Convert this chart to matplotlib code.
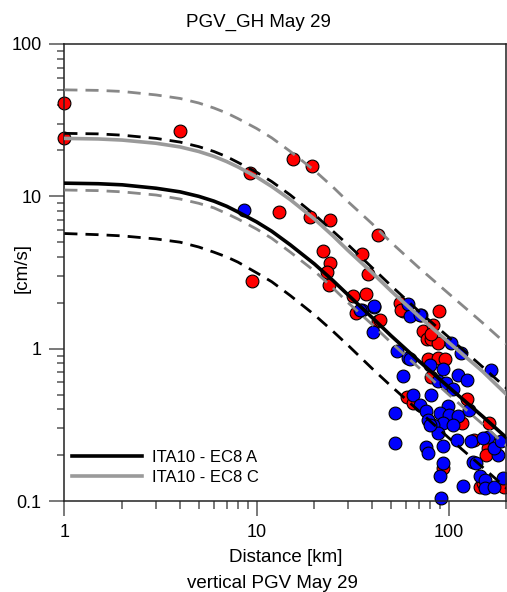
import numpy as np
import matplotlib.pyplot as plt
from matplotlib.ticker import NullFormatter

plt.rcParams['font.family'] = ['Liberation Sans', 'DejaVu Sans']

# model curves (distance km, PGV cm/s)
dist = [1, 1.5, 2, 3, 4, 5, 6, 7, 8, 10, 12, 15, 20, 25, 30, 40, 50, 70, 100, 150, 200]
ec8a_med = [12.2, 12.1, 11.9, 11.3, 10.7, 10.0, 9.3, 8.6, 7.9, 6.8, 5.9, 4.8, 3.6, 2.8,
            2.25, 1.6, 1.22, 0.83, 0.56, 0.36, 0.26]
ec8a_hi = [25.9, 25.7, 25.2, 24.0, 22.7, 21.2, 19.7, 18.2, 16.7, 14.4, 12.5, 10.2, 7.6, 5.9,
           4.8, 3.4, 2.6, 1.76, 1.19, 0.76, 0.55]
ec8a_lo = [5.7, 5.6, 5.5, 5.25, 5.0, 4.65, 4.3, 4.0, 3.7, 3.15, 2.75, 2.23, 1.67, 1.3,
           1.05, 0.74, 0.57, 0.39, 0.26, 0.167, 0.121]
ec8c_med = [24, 23.8, 23.4, 22.3, 21.1, 19.7, 18.3, 16.9, 15.6, 13.4, 11.6, 9.5, 7.1, 5.5,
            4.4, 3.15, 2.4, 1.63, 1.1, 0.71, 0.5]
ec8c_hi = [50, 49.6, 48.8, 46.3, 43.9, 41, 38, 35.2, 32.4, 27.9, 24.2, 19.7, 14.8, 11.5,
           9.2, 6.6, 5.0, 3.4, 2.3, 1.48, 1.07]
ec8c_lo = [11, 10.9, 10.7, 10.2, 9.6, 9.0, 8.4, 7.7, 7.1, 6.1, 5.3, 4.3, 3.24, 2.5,
           2.0, 1.44, 1.1, 0.75, 0.5, 0.32, 0.23]

# observed stations
red_d = [1.0, 1.0, 4.0, 9.2, 13.1, 15.5, 19.5, 19.0, 24.2, 43, 22.3, 35.3, 24.0, 23.2,
         38.2, 9.5, 23.8, 31.9, 37.2, 33, 43, 58, 55.7, 73.6, 77.2, 78, 88.7, 83, 81.3,
         88, 88, 95.3, 81.3, 124, 60.4, 65.3, 118, 163, 136, 160, 157, 93.4, 145, 151,
         195, 81.3, 43.9, 56.6]
red_v = [41, 24, 27, 14.2, 7.9, 17.7, 15.7, 7.3, 7.0, 5.6, 4.4, 4.2, 3.66, 3.2,
         3.1, 2.8, 2.6, 2.23, 2.29, 1.72, 1.53, 1.76, 2.0, 1.31, 1.15, 0.855, 1.76, 1.42, 1.15,
         1.09, 0.87, 0.85, 0.65, 0.47, 0.485, 0.44, 0.324, 0.324, 0.252, 0.222, 0.2, 0.164, 0.124, 0.131,
         0.124, 1.24, 1.55, 1.80]

blue_d = [8.6, 35.3, 40.9, 40.2, 54, 61.5, 61.5, 62.8, 58, 72.2, 103, 116, 79.7, 93.4,
          112, 124, 166, 88, 97.3, 105, 81.3, 65.3, 70.8, 76.6, 52.5, 99.2, 89.8, 101,
          112, 93.4, 105, 83, 88, 110, 78, 128, 160, 131, 151, 180, 173, 188, 52.5, 76.6,
          78, 93.4, 134, 139, 94, 89.8, 119, 145, 154, 154, 173, 191, 91, 40.9, 34.6,
          62.8, 70.8, 79.7]
blue_v = [8.1, 1.79, 1.87, 1.28, 0.97, 0.87, 1.95, 1.63, 0.66, 1.67, 1.09, 0.94, 0.785, 0.73,
          0.675, 0.625, 0.72, 0.61, 0.595, 0.54, 0.5, 0.5, 0.43, 0.387, 0.377, 0.418, 0.377, 0.368,
          0.359, 0.324, 0.316, 0.316, 0.279, 0.252, 0.34, 0.397, 0.265, 0.247, 0.258, 0.2, 0.222, 0.247, 0.24, 0.226,
          0.206, 0.228, 0.181, 0.177, 0.177, 0.146, 0.126, 0.145, 0.137, 0.121, 0.124, 0.141, 0.104, 1.9, 1.8,
          0.85, 1.67, 0.316]

fig = plt.figure(figsize=(5.07, 5.92), dpi=100)
ax = fig.add_axes([0.127, 0.1537, 0.872, 0.772])
ax.set_xscale('log')
ax.set_yscale('log')
ax.set_xlim(1, 200)
ax.set_ylim(0.1, 100)

ax.scatter(red_d, red_v, s=85, c='#ff0000', edgecolors='black', linewidths=0.8,
           zorder=2, clip_on=False)
ax.scatter(blue_d, blue_v, s=85, c='#0000ff', edgecolors='black', linewidths=0.8,
           zorder=2, clip_on=False)

dash = (0, (4.7, 2.9))
ax.plot(dist, ec8c_hi, color='#888888', lw=2, ls=dash, zorder=3)
ax.plot(dist, ec8c_lo, color='#888888', lw=2, ls=dash, zorder=3)
ax.plot(dist, ec8a_hi, color='black', lw=2, ls=dash, zorder=3)
ax.plot(dist, ec8a_lo, color='black', lw=2, ls=dash, zorder=3)
ax.plot(dist, ec8a_med, color='black', lw=2.6, zorder=4, label='ITA10 - EC8 A')
ax.plot(dist, ec8c_med, color='#9a9a9a', lw=2.6, zorder=4, label='ITA10 - EC8 C')

ax.set_xticks([1, 10, 100], ['1', '10', '100'])
ax.set_yticks([0.1, 1, 10, 100], ['0.1', '1', '10', '100'])
ax.xaxis.set_minor_formatter(NullFormatter())
ax.yaxis.set_minor_formatter(NullFormatter())
ax.tick_params(which='major', direction='out', length=10.5, width=1.1, color='#555555',
               labelsize=13, pad=6)
ax.tick_params(which='minor', direction='out', length=5.4, width=1.1, color='#555555')
for s in ax.spines.values():
    s.set_linewidth(1.1)
    s.set_color('#222222')

ax.set_xlabel('Distance [km]', fontsize=13.5)
ax.xaxis.set_label_coords(0.5, -0.105)
ax.set_ylabel('[cm/s]', fontsize=13.5)
ax.yaxis.set_label_coords(-0.077, 0.51)

ax.legend(loc='lower left', bbox_to_anchor=(0.018, 0.035), frameon=False, fontsize=12,
          handlelength=4.2, handletextpad=0.6, labelspacing=0.3, borderpad=0, borderaxespad=0)

fig.text(0.51, 1 - 22 / 592, 'PGV_GH May 29', ha='center', va='center', fontsize=13.5)
fig.text(0.538, 1 - 583 / 592, 'vertical PGV May 29', ha='center', va='center', fontsize=13.5)

fig.savefig('out.png', dpi=100)
